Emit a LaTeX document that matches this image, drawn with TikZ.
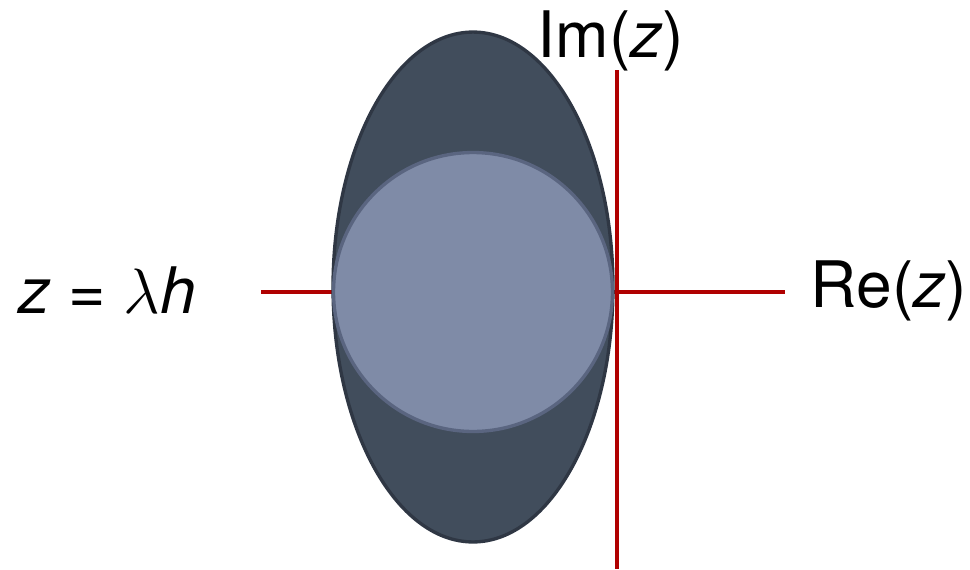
\documentclass[tikz,border=0pt]{standalone}
\usepackage{fix-cm}
\usepackage{fontspec}
\setmainfont{TeX Gyre Heros}
\usetikzlibrary{shapes.geometric}
\definecolor{SlateDark}{HTML}{414D5C}
\definecolor{SlateEdge}{HTML}{2F3744}
\definecolor{SlateLight}{HTML}{7F8BA7}
\definecolor{SlateRim}{HTML}{5A6580}
\definecolor{AxisRed}{HTML}{B00000}
\tikzset{
  axisline/.style={AxisRed, line width=2.8pt},
  axislabel/.style={font=\fontsize{36.5}{42}\selectfont, inner sep=0pt, anchor=base},
}
\begin{document}
\begin{tikzpicture}[x=0.02cm, y=-0.02cm]
  \useasboundingbox (0,0) rectangle (970,569);
  % axes
  \coordinate (reL) at (261,292);
  \coordinate (reR) at (785,292);
  \coordinate (imT) at (617,70);
  \coordinate (imB) at (617,569);
  \draw[axisline] (reL) -- (reR);
  \draw[axisline] (imT) -- (imB);
  % stability region
  \node[ellipse, draw=SlateEdge, fill=SlateDark, line width=1.9pt, inner sep=0pt,
        minimum width=5.6cm, minimum height=10.2cm] (region) at (473,287) {};
  \node[circle, draw=SlateRim, fill=SlateLight, line width=1.9pt, inner sep=0pt,
        minimum size=5.58cm] (disc) at (473,292) {};
  % labels
  \node[axislabel] (imlabel) at (611,57) {Im(\textit{z})};
  \node[axislabel] (relabel) at (889,307) {Re(\textit{z})};
  \node[axislabel] (maplabel) at (107,313) {\textit{z} = $\lambda$\textit{h}};
\end{tikzpicture}
\end{document}
